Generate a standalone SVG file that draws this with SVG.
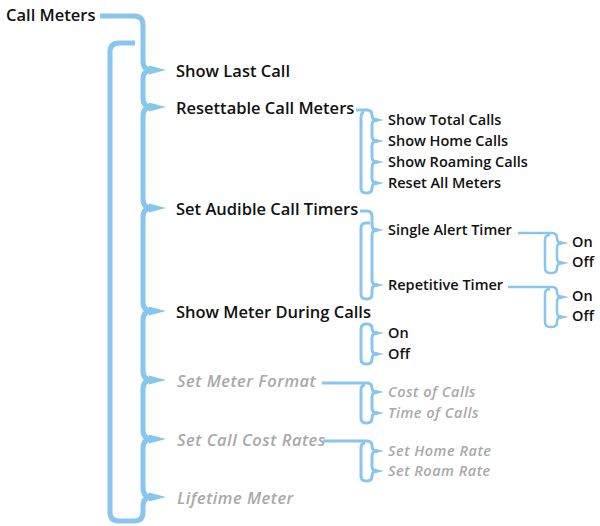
<svg xmlns="http://www.w3.org/2000/svg" width="600" height="526" viewBox="0 0 600 526">
<style>
.bg{fill:#ffffff}
.c{fill:none;stroke:#88c6ee;stroke-linecap:butt;stroke-linejoin:round}
.m{stroke-width:5}
.s{stroke-width:3}
.t{stroke-width:2.5}
.tip{fill:#88c6ee}
text{font-family:"Open Sans","Liberation Sans",sans-serif;font-weight:600;fill:#111111}
.l0{font-size:16.5px}
.l1{font-size:16.5px}
.l2{font-size:14.5px}
.l3{font-size:14.5px}
.g{fill:#a9a9a9;font-style:italic;letter-spacing:0.5px}
</style>
<rect class="bg" x="0" y="0" width="600" height="526"/>
<g id="connectors">
  <path class="c m" d="M 100 16 L 134 16 Q 143 16 143 25 L 143 61 Q 143 70 152 70"/>
  <path class="c m" d="M 152 70 Q 143 70 143 79 L 143 98 Q 143 107 152 107"/>
  <path class="c m" d="M 152 107 Q 143 107 143 116 L 143 199 Q 143 208 152 208"/>
  <path class="c m" d="M 152 208 Q 143 208 143 217 L 143 302 Q 143 311 152 311"/>
  <path class="c m" d="M 152 311 Q 143 311 143 320 L 143 371 Q 143 380 152 380"/>
  <path class="c m" d="M 152 380 Q 143 380 143 389 L 143 430 Q 143 439 152 439"/>
  <path class="c m" d="M 152 439 Q 143 439 143 448 L 143 488 Q 143 497 152 497"/>
  <path class="c m" d="M 152 497 Q 143 497 143 506 L 143 512 Q 143 521 134 521 L 119 521 Q 110 521 110 512 L 110 52 Q 110 43 119 43 L 135 43"/>
  <polygon class="tip" points="149,65.5 166,70 149,74.5"/>
  <polygon class="tip" points="149,102.5 166,107 149,111.5"/>
  <polygon class="tip" points="149,203.5 166,208 149,212.5"/>
  <polygon class="tip" points="149,306.5 166,311 149,315.5"/>
  <polygon class="tip" points="149,375.5 166,380 149,384.5"/>
  <polygon class="tip" points="149,434.5 166,439 149,443.5"/>
  <polygon class="tip" points="149,492.5 166,497 149,501.5"/>

  <path class="c s" d="M 356 110 L 367 110 Q 372 110 372 115 Q 372 120 377 120"/>
  <path class="c s" d="M 377 120 Q 372 120 372 125 L 372 136 Q 372 141 377 141"/>
  <path class="c s" d="M 377 141 Q 372 141 372 146 L 372 157 Q 372 162 377 162"/>
  <path class="c s" d="M 377 162 Q 372 162 372 167 L 372 178 Q 372 183 377 183"/>
  <path class="c s" d="M 377 183 Q 372 183 372 188 Q 372 193 367 193 L 366 193 Q 361 193 361 188 L 361 118 Q 361 113 364 112"/>
  <polygon class="tip" points="375,117.8 384,120 375,122.2"/>
  <polygon class="tip" points="375,138.8 384,141 375,143.2"/>
  <polygon class="tip" points="375,159.8 384,162 375,164.2"/>
  <polygon class="tip" points="375,180.8 384,183 375,185.2"/>

  <path class="c s" d="M 360 211 L 367 211 Q 372 211 372 216 L 372 225 Q 372 230 377 230"/>
  <path class="c s" d="M 377 230 Q 372 230 372 235 L 372 280 Q 372 285 377 285"/>
  <path class="c s" d="M 377 285 Q 372 285 372 290 L 372 294 Q 372 299 367 299 L 366 299 Q 361 299 361 294 L 361 228 Q 361 223 366 223 L 370 223"/>
  <polygon class="tip" points="375,227.8 384,230 375,232.2"/>
  <polygon class="tip" points="375,282.8 384,285 375,287.2"/>

  <path class="c t" d="M 518 233 L 552 233 Q 557 233 557 238 Q 557 243 562 243"/>
  <path class="c t" d="M 562 243 Q 557 243 557 248 L 557 258 Q 557 263 562 263"/>
  <path class="c t" d="M 562 263 Q 557 263 557 268 Q 557 273 552 273 L 550 273 Q 545 273 545 268 L 545 240 Q 545 235 550 235"/>
  <polygon class="tip" points="560,241 569,243 560,245"/>
  <polygon class="tip" points="560,261 569,263 560,265"/>

  <path class="c t" d="M 508 287 L 552 287 Q 557 287 557 292 Q 557 297 562 297"/>
  <path class="c t" d="M 562 297 Q 557 297 557 302 L 557 312 Q 557 317 562 317"/>
  <path class="c t" d="M 562 317 Q 557 317 557 322 Q 557 327 552 327 L 550 327 Q 545 327 545 322 L 545 294 Q 545 289 550 289"/>
  <polygon class="tip" points="560,295 569,297 560,299"/>
  <polygon class="tip" points="560,315 569,317 560,319"/>

  <path class="c s" d="M 361 329 Q 361 324 366 324 L 367 324 Q 372 324 372 328 Q 372 333 377 333"/>
  <path class="c s" d="M 377 333 Q 372 333 372 338 L 372 349 Q 372 354 377 354"/>
  <path class="c s" d="M 377 354 Q 372 354 372 359 Q 372 364 367 364 L 366 364 Q 361 364 361 359 L 361 329"/>
  <polygon class="tip" points="375,330.8 384,333 375,335.2"/>
  <polygon class="tip" points="375,351.8 384,354 375,356.2"/>

  <path class="c s" d="M 322 383 L 367 383 Q 372 383 372 388 Q 372 392 377 392"/>
  <path class="c s" d="M 377 392 Q 372 392 372 397 L 372 408 Q 372 413 377 413"/>
  <path class="c s" d="M 377 413 Q 372 413 372 418 Q 372 423 367 423 L 366 423 Q 361 423 361 418 L 361 390 Q 361 385 365 385"/>
  <polygon class="tip" points="375,389.8 384,392 375,394.2"/>
  <polygon class="tip" points="375,410.8 384,413 375,415.2"/>

  <path class="c s" d="M 323 441 L 367 441 Q 372 441 372 446 Q 372 451 377 451"/>
  <path class="c s" d="M 377 451 Q 372 451 372 456 L 372 466 Q 372 471 377 471"/>
  <path class="c s" d="M 377 471 Q 372 471 372 476 Q 372 481 367 481 L 366 481 Q 361 481 361 476 L 361 448 Q 361 443 365 443"/>
  <polygon class="tip" points="375,448.8 384,451 375,453.2"/>
  <polygon class="tip" points="375,468.8 384,471 375,473.2"/>
</g>

<g id="n-call-meters"><text class="l0" x="6" y="21">Call Meters</text></g>
<g id="n-show-last-call"><text class="l1" x="176" y="77">Show Last Call</text></g>
<g id="n-resettable"><text class="l1" x="176" y="114">Resettable Call Meters</text></g>
<g id="n-show-total"><text class="l2" x="388" y="125">Show Total Calls</text></g>
<g id="n-show-home"><text class="l2" x="388" y="146">Show Home Calls</text></g>
<g id="n-show-roaming"><text class="l2" x="388" y="167">Show Roaming Calls</text></g>
<g id="n-reset-all"><text class="l2" x="388" y="188">Reset All Meters</text></g>
<g id="n-set-audible"><text class="l1" x="176" y="215">Set Audible Call Timers</text></g>
<g id="n-single-alert"><text class="l2" x="388" y="235">Single Alert Timer</text></g>
<g id="n-single-on"><text class="l3" x="572" y="247">On</text></g>
<g id="n-single-off"><text class="l3" x="572" y="267">Off</text></g>
<g id="n-repetitive"><text class="l2" x="388" y="290">Repetitive Timer</text></g>
<g id="n-rep-on"><text class="l3" x="572" y="301">On</text></g>
<g id="n-rep-off"><text class="l3" x="572" y="321">Off</text></g>
<g id="n-show-meter"><text class="l1" x="176" y="318">Show Meter During Calls</text></g>
<g id="n-meter-on"><text class="l2" x="388" y="338">On</text></g>
<g id="n-meter-off"><text class="l2" x="388" y="359">Off</text></g>
<g id="n-set-meter-format"><text class="l1 g" x="177" y="387">Set Meter Format</text></g>
<g id="n-cost-of-calls"><text class="l2 g" x="388" y="397">Cost of Calls</text></g>
<g id="n-time-of-calls"><text class="l2 g" x="388" y="418">Time of Calls</text></g>
<g id="n-set-call-cost"><text class="l1 g" x="177" y="446">Set Call Cost Rates</text></g>
<g id="n-set-home-rate"><text class="l2 g" x="388" y="456">Set Home Rate</text></g>
<g id="n-set-roam-rate"><text class="l2 g" x="388" y="476">Set Roam Rate</text></g>
<g id="n-lifetime"><text class="l1 g" x="177" y="504">Lifetime Meter</text></g>
</svg>
